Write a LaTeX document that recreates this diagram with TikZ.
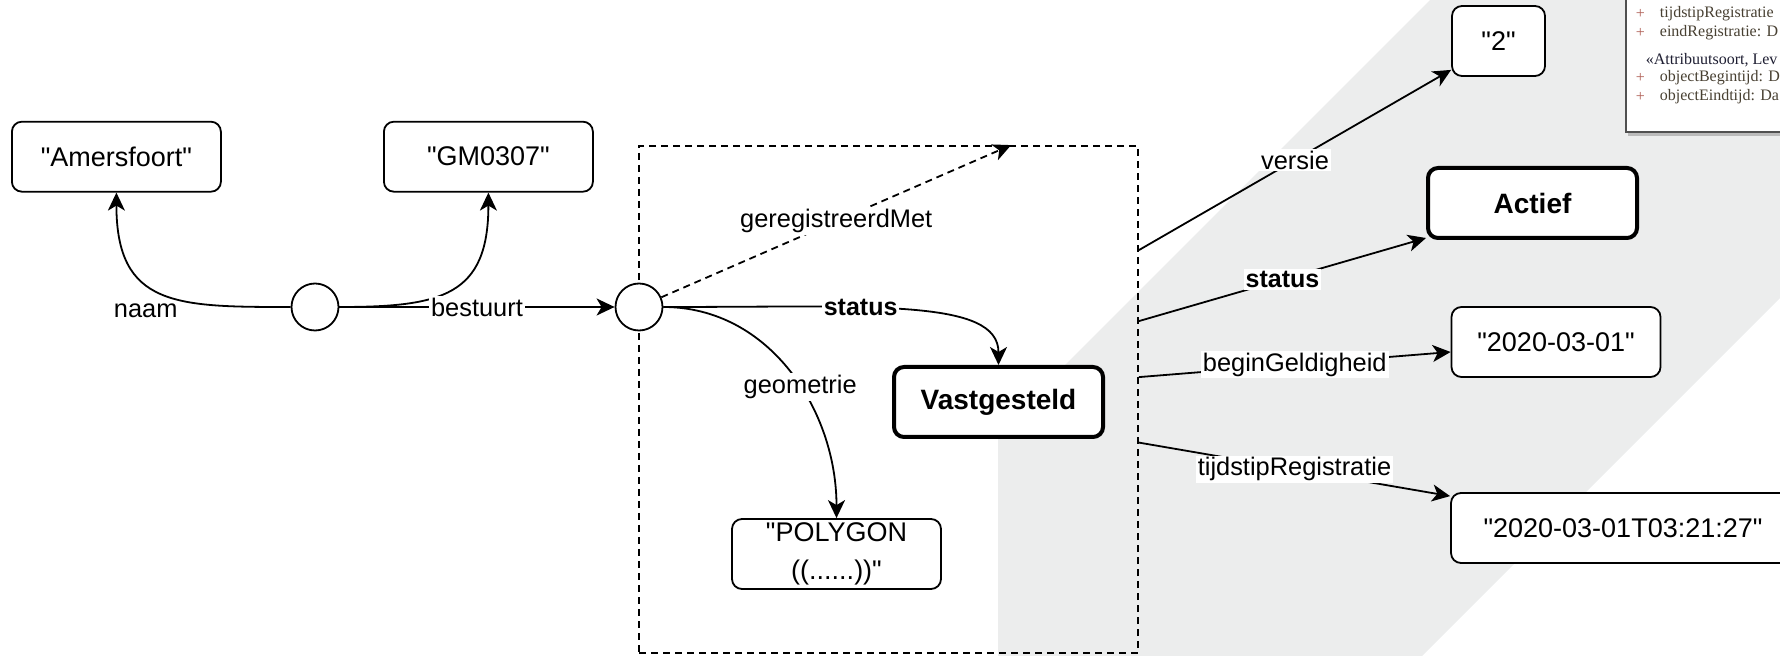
\documentclass[tikz,border=0pt]{standalone}
\usepackage{fontspec}
\setmainfont{Liberation Sans}[Ligatures=TeXOff]
\newfontfamily\umlfont{Liberation Serif}
\usepackage{tikz}
\usetikzlibrary{positioning,arrows.meta,shadows}

\definecolor{band}{RGB}{236,237,237}
\definecolor{umlline}{RGB}{80,80,80}
\definecolor{umlplus}{RGB}{175,95,85}
\definecolor{umltext}{RGB}{72,64,50}
\definecolor{umlhead}{RGB}{30,30,50}

\begin{document}
\begin{tikzpicture}[>={Stealth[length=9pt,width=8.5pt,inset=2.5pt]}, line width=0.9pt, on grid,
    waarde/.style={draw, rounded corners=5pt, fill=white, minimum width=104.5pt, minimum height=35pt,
                   inner sep=2pt, align=center, font=\fontsize{13.5}{18.7}\selectfont},
    begrip/.style={waarde, line width=2pt, font=\fontsize{14}{17}\selectfont\bfseries},
    knoop/.style={draw, circle, fill=white, minimum size=23.5pt, inner sep=0pt},
    stippel/.style={dash pattern=on 3.5pt off 2.5pt},
    lbl/.style={fill=white, inner sep=1pt, font=\fontsize{12.7}{15}\selectfont},
    lblvet/.style={lbl, font=\fontsize{12.5}{15}\selectfont\bfseries},
    uml/.style={anchor=west, inner sep=0pt, text=umltext, font=\umlfont\fontsize{8}{9.5}\selectfont}]
  \useasboundingbox (0,0) rectangle (890pt,-328pt);
  \clip (0,0) rectangle (890pt,-328pt);
  % grijze band achter de versie-gegevens
  \fill[band] (499pt,-328pt) -- (499pt,-216pt) -- (715pt,0pt) -- (890pt,0pt)
              -- (890pt,-149pt) -- (711pt,-328pt) -- cycle;

  % stukje UML-klasse rechtsboven
  \node[draw=umlline, line width=1pt, fill=white, minimum width=120pt, minimum height=100pt, anchor=south west,
        drop shadow={shadow xshift=1pt, shadow yshift=-2pt, opacity=0.45}] (uml) at (812.5pt,-66.5pt) {};
  \node[uml, text=umlplus] (p1) at (817.5pt,-7pt) {+};
  \node[uml] (a1) at (829.5pt,-7pt) {tijdstipRegistratie};
  \node[uml, text=umlplus] (p2) at (817.5pt,-16.5pt) {+};
  \node[uml] (a2) at (829.5pt,-16.5pt) {eindRegistratie: D};
  \node[uml, text=umlhead] (s1) at (822.5pt,-30pt) {«Attribuutsoort, Lev};
  \node[uml, text=umlplus] (p3) at (817.5pt,-39pt) {+};
  \node[uml] (a3) at (829.5pt,-39pt) {objectBegintijd: D};
  \node[uml, text=umlplus] (p4) at (817.5pt,-48.5pt) {+};
  \node[uml] (a4) at (829.5pt,-48.5pt) {objectEindtijd: Da};

  \node[waarde] (am) at (58.2pt,-78.35pt) {"Amersfoort"};
  \node[waarde] (gm) [right=186pt of am] {"GM0307"};
  \node[knoop] (c1) [below right=75.15pt and 99.3pt of am] {};
  \node[draw, stippel, minimum width=249.5pt, minimum height=253.5pt] (grp)
       [below right=46.25pt and 286.75pt of c1] {};
  \node[knoop] (c2) [right=162pt of c1] {};
  \node[begrip] (vast) [below right=47.5pt and 179.75pt of c2] {Vastgesteld};
  \node[waarde] (poly) [below right=123.5pt and 98.75pt of c2] {"POLYGON\\((......))"};
  \node[begrip] (actief) [above right=99.5pt and 267pt of vast] {Actief};
  \node[waarde, minimum width=46.5pt] (twee) [above left=81pt and 17pt of actief] {"2"};
  \node[waarde] (datum) [below right=69.5pt and 11.75pt of actief] {"2020-03-01"};
  \node[waarde, minimum width=172pt] (tijd) [below right=93pt and 33.5pt of datum] {"2020-03-01T03:21:27"};

  \coordinate (gtop) at ([xshift=186.5pt]grp.north west);
  \coordinate (r1) at ([yshift=-52.5pt]grp.north east);
  \coordinate (r2) at ([yshift=-88pt]grp.north east);
  \coordinate (r3) at ([yshift=-116pt]grp.north east);
  \coordinate (r4) at ([yshift=-148.75pt]grp.north east);

  \path[->]
    (c1) edge [out=180, in=270, looseness=1.4] node [lbl, pos=0.5, below=4pt, xshift=-7.5pt] (lnaam) {naam} (am)
         edge [out=0, in=270, looseness=1.4] (gm)
         edge node [lbl] (lbest) {bestuurt} (c2)
    (c2) edge [stippel] node [lbl] (lgeg) {geregistreerdMet} (gtop)
         edge [out=0, in=90, out looseness=1.6, in looseness=0.5] node [lblvet, pos=0.37] (lst1) {status} (vast)
         edge [out=0, in=90] node [lbl, pos=0.56] (lgeo) {geometrie} (poly)
    (r1) edge node [lbl] (lver) {versie} ([yshift=3.5pt]twee.south west)
    (r2) edge node [lblvet] (lst2) {status} ([yshift=1pt]actief.south west)
    (r3) edge node [lbl] (lbeg) {beginGeldigheid} ([yshift=-5pt]datum.west)
    (r4) edge node [lbl] (ltijd) {tijdstipRegistratie} ([yshift=-2pt]tijd.north west);
\end{tikzpicture}
\end{document}
